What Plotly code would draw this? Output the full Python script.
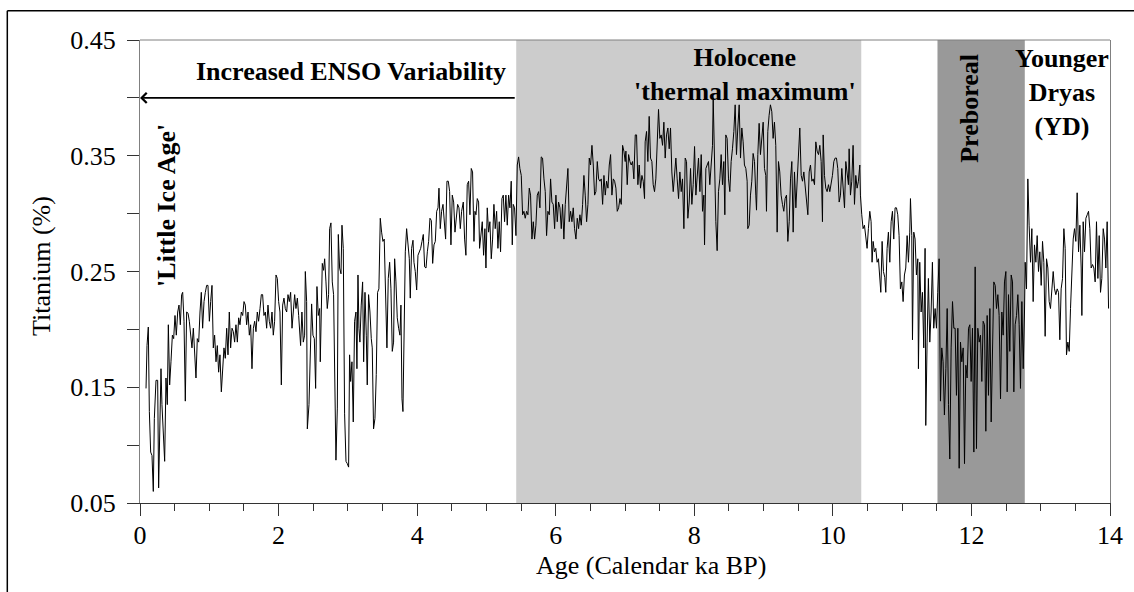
import plotly.graph_objects as go

# ---------------- data (age in calendar ka BP, titanium in %) ----------------
age_a = [0.087,0.101,0.120,0.135,0.154,0.173,0.192,0.207,0.231,0.255,
         0.269,0.289,0.303,0.317,0.337,0.356,0.375,0.394,0.409,0.428,
         0.447,0.467,0.486,0.505,0.524,0.544,0.563,0.582,0.601,0.616,
         0.635,0.654,0.673,0.693,0.712,0.731,0.750,0.770,0.789,0.808,
         0.827,0.847,0.866,0.885,0.904,0.924,0.943,0.962,0.981,1.001,
         1.020,1.039,1.058,1.077,1.097,1.116,1.135,1.154,1.174,1.193,
         1.212,1.231,1.251,1.270,1.289,1.308,1.328,1.347,1.366,1.385,
         1.405,1.424,1.443,1.462,1.482,1.501,1.520,1.539,1.559,1.578,
         1.597,1.616,1.636,1.655,1.674,1.693,1.712,1.732,1.751,1.770,
         1.789,1.809,1.828,1.847,1.866,1.886,1.905,1.924,1.943,1.963,
         1.982,2.001,2.020,2.040,2.059,2.078,2.097,2.117,2.136,2.155,
         2.174,2.194,2.213,2.232,2.251,2.271,2.290,2.309]
ti_a = [0.149,0.186,0.202,0.129,0.094,0.091,0.060,0.123,0.156,0.156,
        0.063,0.132,0.166,0.135,0.112,0.086,0.158,0.135,0.204,0.152,
        0.172,0.195,0.192,0.212,0.195,0.215,0.221,0.204,0.230,0.232,
        0.207,0.138,0.215,0.214,0.207,0.192,0.184,0.201,0.184,0.158,
        0.192,0.189,0.215,0.232,0.201,0.224,0.232,0.238,0.238,0.207,
        0.224,0.238,0.184,0.195,0.172,0.186,0.163,0.178,0.146,0.172,
        0.184,0.175,0.201,0.178,0.215,0.184,0.201,0.198,0.189,0.204,
        0.189,0.210,0.204,0.215,0.212,0.224,0.221,0.204,0.215,0.195,
        0.204,0.166,0.201,0.207,0.198,0.215,0.207,0.218,0.230,0.230,
        0.212,0.215,0.201,0.221,0.207,0.201,0.215,0.195,0.207,0.247,
        0.244,0.224,0.215,0.152,0.221,0.227,0.218,0.215,0.230,0.224,
        0.232,0.201,0.218,0.230,0.218,0.227,0.212,0.195]

age_b = [2.318,2.337,2.357,2.376,2.386,2.405,2.415,2.439,2.458,2.477,
         2.496,2.516,2.535,2.554,2.573,2.593,2.602,2.617,2.631,2.650,
         2.665,2.684,2.703,2.722,2.737,2.756,2.775,2.794,2.809,2.828,
         2.848,2.862,2.881,2.901,2.915,2.934,2.953,2.973,2.992,3.011,
         3.025,3.040,3.059,3.078,3.097,3.117,3.131,3.146,3.160,3.174,
         3.193,3.213,3.228,3.247,3.266,3.280,3.299,3.319,3.338,3.352,
         3.371,3.391,3.410,3.429,3.448,3.468,3.487,3.506,3.525,3.545,
         3.564,3.583,3.603,3.622,3.641,3.660,3.675,3.694,3.713,3.733,
         3.752,3.766,3.781,3.795,3.810,3.829,3.848,3.867,3.887,3.901,
         3.920,3.940,3.954,3.973,3.993,4.012,4.031,4.051,4.070,4.089,
         4.108,4.128,4.147,4.166,4.185,4.205,4.224,4.243,4.262,4.282,
         4.301,4.315,4.334,4.353,4.373,4.392,4.411,4.430,4.450,4.469,
         4.488,4.507,4.527,4.546,4.565,4.584,4.604,4.623,4.642]
ti_b = [0.186,0.215,0.189,0.195,0.250,0.224,0.114,0.135,0.184,0.222,
        0.195,0.192,0.149,0.237,0.212,0.218,0.172,0.224,0.257,0.251,
        0.261,0.241,0.218,0.230,0.287,0.292,0.241,0.230,0.158,0.087,
        0.132,0.282,0.253,0.248,0.290,0.270,0.127,0.086,0.084,0.081,
        0.178,0.155,0.172,0.120,0.207,0.215,0.166,0.247,0.201,0.189,
        0.221,0.241,0.172,0.232,0.195,0.152,0.230,0.215,0.192,0.184,
        0.114,0.123,0.161,0.232,0.235,0.296,0.284,0.276,0.278,0.230,
        0.184,0.244,0.258,0.235,0.181,0.189,0.261,0.241,0.210,0.201,
        0.195,0.221,0.140,0.129,0.215,0.267,0.287,0.276,0.261,0.227,
        0.270,0.277,0.258,0.250,0.234,0.264,0.267,0.270,0.276,0.282,
        0.254,0.253,0.267,0.276,0.296,0.294,0.257,0.273,0.276,0.302,
        0.305,0.322,0.287,0.302,0.308,0.293,0.278,0.328,0.328,0.319,
        0.273,0.316,0.310,0.284,0.299,0.308,0.305,0.287,0.302]

age_c = [4.666,4.685,4.704,4.723,4.743,4.762,4.781,4.800,4.820,4.834,
         4.849,4.868,4.887,4.901,4.921,4.940,4.959,4.978,4.993,5.012,
         5.031,5.050,5.070,5.089,5.108,5.127,5.147,5.166,5.185,5.204,
         5.224,5.243,5.262,5.281,5.301,5.320,5.339,5.358,5.373,5.387,
         5.406,5.426,5.445,5.464,5.483,5.503,5.522,5.541,5.560,5.580,
         5.599,5.618,5.637,5.657,5.676,5.695,5.714,5.734,5.753,5.772,
         5.791,5.810,5.830,5.849,5.868,5.887,5.907,5.926,5.945,5.964,
         5.984,6.003,6.022,6.041,6.061,6.080,6.099,6.118,6.138,6.157,
         6.176,6.195,6.215,6.234,6.253,6.272,6.292,6.311,6.330,6.349,
         6.369,6.388,6.407,6.426,6.446,6.465,6.484,6.503,6.523,6.542,
         6.561,6.580,6.600,6.619,6.638,6.657,6.677,6.696,6.715,6.734,
         6.754,6.773,6.792,6.811,6.831,6.850,6.869,6.888,6.908,6.927,
         6.946,6.965,6.984,7.003]
ti_c = [0.310,0.278,0.264,0.325,0.328,0.299,0.339,0.336,0.276,0.302,
        0.299,0.313,0.310,0.270,0.284,0.293,0.264,0.287,0.253,0.305,
        0.284,0.293,0.261,0.278,0.308,0.287,0.302,0.270,0.293,0.267,
        0.313,0.316,0.293,0.316,0.290,0.316,0.305,0.328,0.273,0.308,
        0.305,0.281,0.342,0.349,0.339,0.333,0.299,0.302,0.296,0.302,
        0.299,0.322,0.316,0.278,0.293,0.278,0.290,0.316,0.319,0.305,
        0.349,0.348,0.330,0.319,0.281,0.302,0.299,0.330,0.310,0.308,
        0.287,0.316,0.293,0.310,0.305,0.287,0.308,0.278,0.308,0.328,
        0.339,0.293,0.302,0.293,0.305,0.287,0.278,0.296,0.287,0.299,
        0.290,0.308,0.333,0.316,0.293,0.308,0.348,0.342,0.359,0.342,
        0.316,0.319,0.345,0.330,0.328,0.330,0.308,0.333,0.316,0.328,
        0.322,0.342,0.351,0.316,0.330,0.328,0.322,0.302,0.305,0.313,
        0.308,0.359,0.354,0.345]

age_d = [7.013,7.032,7.052,7.071,7.090,7.109,7.128,7.148,7.167,7.186,
         7.205,7.224,7.244,7.263,7.282,7.291,7.311,7.330,7.349,7.368,
         7.388,7.407,7.426,7.445,7.465,7.484,7.503,7.522,7.542,7.561,
         7.580,7.599,7.619,7.638,7.657,7.676,7.696,7.715,7.734,7.753,
         7.773,7.792,7.811,7.830,7.850,7.869,7.888,7.907,7.927,7.946,
         7.965,7.984,8.004,8.023,8.042,8.061,8.081,8.100,8.119,8.138,
         8.148,8.167,8.186,8.205,8.224,8.244,8.263,8.273,8.292,8.311,
         8.330,8.349,8.369,8.388,8.407,8.426,8.441,8.455,8.474,8.494,
         8.513,8.532,8.551,8.571,8.590,8.609,8.628,8.648,8.667,8.686,
         8.705,8.724,8.744,8.763,8.772,8.792,8.811,8.830,8.849,8.869,
         8.888,8.898,8.917,8.936,8.955,8.974,8.994,9.013,9.032,9.042,
         9.061,9.080,9.099,9.119,9.138,9.157,9.176,9.196,9.215,9.234,
         9.253,9.273,9.292,9.311]
ti_d = [0.354,0.325,0.351,0.345,0.342,0.345,0.330,0.368,0.368,0.325,
        0.342,0.322,0.333,0.328,0.313,0.362,0.371,0.345,0.384,0.348,
        0.345,0.325,0.319,0.330,0.362,0.390,0.365,0.368,0.359,0.379,
        0.348,0.368,0.374,0.356,0.374,0.336,0.319,0.339,0.348,0.330,
        0.313,0.336,0.319,0.330,0.287,0.348,0.345,0.296,0.310,0.339,
        0.308,0.325,0.358,0.316,0.330,0.348,0.319,0.351,0.302,0.316,
        0.273,0.339,0.342,0.345,0.325,0.348,0.359,0.400,0.345,0.293,
        0.268,0.319,0.330,0.351,0.325,0.345,0.299,0.368,0.365,0.330,
        0.319,0.345,0.356,0.371,0.394,0.351,0.374,0.394,0.348,0.374,
        0.362,0.342,0.339,0.328,0.287,0.290,0.316,0.328,0.352,0.345,
        0.316,0.303,0.351,0.378,0.351,0.365,0.379,0.339,0.333,0.302,
        0.371,0.385,0.394,0.388,0.365,0.379,0.359,0.284,0.345,0.336,
        0.316,0.308,0.302,0.313]

age_e = [9.331,9.350,9.370,9.389,9.408,9.427,9.446,9.466,9.485,9.504,
         9.523,9.543,9.562,9.581,9.600,9.620,9.639,9.658,9.677,9.697,
         9.716,9.735,9.754,9.773,9.793,9.812,9.831,9.850,9.860,9.879,
         9.898,9.917,9.937,9.956,9.975,9.994,10.014,10.033,10.052,10.071,
         10.091,10.110,10.129,10.148,10.168,10.187,10.206,10.225,10.235,10.254,
         10.273,10.292,10.312,10.331,10.350,10.369,10.389,10.398,10.417,10.436,
         10.456,10.475,10.494,10.513,10.533,10.552,10.566,10.581,10.600,10.619,
         10.639,10.658,10.672,10.692,10.711,10.730,10.749,10.764,10.783,10.802,
         10.822,10.841,10.860,10.879,10.898,10.918,10.937,10.956,10.975,10.995,
         11.014,11.033,11.052,11.072,11.091,11.110,11.120,11.139,11.149,11.168,
         11.187,11.206,11.226,11.235,11.254,11.274,11.293,11.312,11.331,11.341,
         11.360,11.379,11.399,11.418,11.437,11.456,11.476,11.495,11.514,11.534,
         11.553,11.572,11.591,11.610]
ti_e = [0.316,0.276,0.293,0.330,0.345,0.284,0.336,0.305,0.330,0.342,
        0.374,0.333,0.328,0.336,0.325,0.316,0.299,0.336,0.342,0.328,
        0.330,0.325,0.362,0.354,0.351,0.359,0.345,0.293,0.368,0.333,
        0.322,0.319,0.325,0.319,0.325,0.333,0.345,0.348,0.348,0.339,
        0.310,0.316,0.339,0.325,0.305,0.345,0.333,0.325,0.356,0.316,
        0.328,0.359,0.308,0.333,0.322,0.328,0.342,0.316,0.299,0.287,
        0.290,0.281,0.270,0.287,0.302,0.293,0.258,0.276,0.267,0.270,
        0.258,0.261,0.244,0.232,0.276,0.250,0.245,0.232,0.270,0.284,
        0.258,0.293,0.302,0.278,0.305,0.305,0.299,0.281,0.235,0.241,
        0.224,0.247,0.253,0.281,0.258,0.284,0.313,0.281,0.191,0.284,
        0.278,0.247,0.261,0.166,0.258,0.215,0.232,0.184,0.270,0.117,
        0.189,0.244,0.189,0.215,0.258,0.201,0.218,0.201,0.232,0.261,
        0.138,0.184,0.172,0.126]

age_f = [11.631,11.650,11.669,11.688,11.707,11.727,11.746,11.765,11.784,11.804,
         11.823,11.842,11.861,11.881,11.900,11.919,11.938,11.958,11.977,11.996,
         12.015,12.035,12.054,12.073,12.092,12.112,12.131,12.150,12.169,12.189,
         12.208,12.227,12.246,12.266,12.285,12.304,12.323,12.343,12.362,12.381,
         12.400,12.420,12.439,12.458,12.477,12.497,12.516,12.535,12.554,12.574,
         12.593,12.612,12.631,12.651,12.670,12.689,12.708,12.728,12.747,12.766,
         12.776,12.795,12.814,12.833,12.853,12.872,12.891,12.910,12.930,12.949,
         12.968,12.987,13.007,13.026,13.045,13.064,13.084,13.103,13.122,13.141,
         13.161,13.180,13.199,13.218,13.238,13.257,13.276,13.295,13.315,13.334,
         13.353,13.372,13.392,13.411,13.430,13.449,13.469,13.488,13.507,13.526,
         13.546,13.565,13.584,13.594,13.613,13.632,13.652,13.671,13.690,13.709,
         13.728,13.748,13.767,13.786,13.805,13.825,13.844,13.863,13.882,13.902,
         13.921,13.940,13.959,13.979]
ti_f = [0.166,0.218,0.135,0.088,0.184,0.224,0.201,0.201,0.143,0.201,
        0.080,0.189,0.172,0.184,0.084,0.169,0.158,0.201,0.204,0.155,
        0.201,0.094,0.254,0.097,0.201,0.189,0.195,0.155,0.207,0.204,
        0.112,0.212,0.143,0.218,0.120,0.201,0.241,0.238,0.218,0.230,
        0.212,0.140,0.215,0.195,0.241,0.250,0.146,0.230,0.181,0.247,
        0.241,0.146,0.204,0.212,0.230,0.204,0.149,0.224,0.166,0.215,
        0.258,0.235,0.330,0.290,0.258,0.287,0.224,0.273,0.258,0.281,
        0.250,0.267,0.238,0.276,0.258,0.194,0.261,0.253,0.224,0.218,
        0.232,0.250,0.235,0.230,0.235,0.232,0.191,0.235,0.244,0.287,
        0.270,0.178,0.189,0.181,0.218,0.253,0.278,0.287,0.276,0.318,
        0.267,0.290,0.253,0.212,0.293,0.267,0.296,0.299,0.302,0.287,
        0.253,0.256,0.253,0.241,0.293,0.244,0.281,0.232,0.244,0.287,
        0.278,0.253,0.293,0.218]

# climate periods (ka BP)
thermal_max = [5.43, 10.41]
preboreal = [11.51, 12.77]

# axis ticks
x_ticks = [0, 2, 4, 6, 8, 10, 12, 14]
x_minor = [0.5, 1, 1.5, 2.5, 3, 3.5, 4.5, 5, 5.5, 6.5, 7, 7.5, 8.5, 9, 9.5,
           10.5, 11, 11.5, 12.5, 13, 13.5]
y_ticks = [0.05, 0.15, 0.25, 0.35, 0.45]
y_tick_text = ["0.05", "0.15", "0.25", "0.35", "0.45"]
y_minor = [0.10, 0.20, 0.30, 0.40]

for a, b in [(age_a, ti_a), (age_b, ti_b), (age_c, ti_c), (age_d, ti_d), (age_e, ti_e), (age_f, ti_f)]:
    assert len(a) == len(b), (len(a), len(b))

age = age_a + age_b + age_c + age_d + age_e + age_f
ti = ti_a + ti_b + ti_c + ti_d + ti_e + ti_f

SERIF = "Liberation Serif"

fig = go.Figure()
fig.add_trace(go.Scatter(x=age, y=ti, mode="lines",
                         line=dict(color="black", width=1),
                         hoverinfo="skip", showlegend=False))

shapes = [
    dict(type="rect", xref="x", yref="paper", x0=thermal_max[0], x1=thermal_max[1],
         y0=0, y1=1, fillcolor="#cccccc", line_width=0, layer="below"),
    dict(type="rect", xref="x", yref="paper", x0=preboreal[0], x1=preboreal[1],
         y0=0, y1=1, fillcolor="#999999", line_width=0, layer="below"),
    # top frame of plot area
    dict(type="line", xref="paper", yref="paper", x0=0, x1=1, y0=1, y1=1,
         line=dict(color="#808080", width=1)),
    # outer figure frame (left and top edges visible)
    dict(type="line", xref="paper", yref="paper", x0=-0.1368, x1=-0.1368, y0=-0.4, y1=1.0633,
         line=dict(color="black", width=1.5)),
    dict(type="line", xref="paper", yref="paper", x0=-0.1368, x1=1.2, y0=1.0633, y1=1.0633,
         line=dict(color="black", width=1.5)),
]

bold = dict(family=SERIF, size=26, color="black")
annotations = [
    dict(x=3.045, y=0.4224, xref="x", yref="y", text="<b>Increased ENSO Variability</b>",
         showarrow=False, font=bold, xanchor="center", yanchor="middle"),
    dict(x=0, y=0.40, ax=thermal_max[0], ay=0.40, xref="x", yref="y", axref="x", ayref="y",
         text="", showarrow=True, arrowhead=4, arrowsize=1.1, arrowwidth=1.8, arrowcolor="black"),
    dict(x=8.73, y=0.4206, xref="x", yref="y", text="<b>Holocene<br>'thermal maximum'</b>",
         showarrow=False, font=bold, xanchor="center", yanchor="middle"),
    dict(x=0.389, y=0.3075, xref="x", yref="y", text="<b>'Little Ice Age'</b>", textangle=-90,
         showarrow=False, font=bold, xanchor="center", yanchor="middle"),
    dict(x=11.977, y=0.3913, xref="x", yref="y", text="<b>Preboreal</b>", textangle=-90,
         showarrow=False, font=bold, xanchor="center", yanchor="middle"),
    dict(x=13.30, y=0.405, xref="x", yref="y", text="<b>Younger<br>Dryas<br>(YD)</b>",
         showarrow=False, font=bold, xanchor="center", yanchor="middle"),
    dict(x=0.527, y=-0.134, xref="paper", yref="paper", text="Age (Calendar ka BP)",
         showarrow=False, font=dict(family=SERIF, size=26, color="black"),
         xanchor="center", yanchor="middle"),
    dict(x=-0.101, y=0.512, xref="paper", yref="paper", text="Titanium (%)", textangle=-90,
         showarrow=False, font=dict(family=SERIF, size=26, color="black"),
         xanchor="center", yanchor="middle"),
]

fig.update_layout(
    width=1134, height=592,
    margin=dict(l=140, r=24, t=40, b=89, autoexpand=False),
    paper_bgcolor="white", plot_bgcolor="white",
    shapes=shapes, annotations=annotations,
    xaxis=dict(range=[0, 14], showgrid=False, zeroline=False,
               showline=True, linecolor="#333333", linewidth=1, mirror=False,
               ticks="outside", ticklen=12, tickwidth=1, tickcolor="#333333",
               tickmode="array", tickvals=x_ticks, ticktext=[str(v) for v in x_ticks],
               tickfont=dict(family=SERIF, size=26, color="black"),
               ticklabelstandoff=-3,
               minor=dict(ticks="outside", ticklen=7, tickwidth=1, tickcolor="#333333",
                          tickmode="array", tickvals=x_minor, showgrid=False)),
    yaxis=dict(range=[0.05, 0.45], showgrid=False, zeroline=False,
               showline=True, linecolor="#808080", linewidth=1, mirror=True,
               ticks="outside", ticklen=12, tickwidth=1, tickcolor="#333333",
               tickmode="array", tickvals=y_ticks, ticktext=y_tick_text,
               tickfont=dict(family=SERIF, size=26, color="black"),
               ticklabelstandoff=6,
               minor=dict(ticks="outside", ticklen=12, tickwidth=1, tickcolor="#333333",
                          tickmode="array", tickvals=y_minor, showgrid=False)),
)

fig.write_html("out.html")
